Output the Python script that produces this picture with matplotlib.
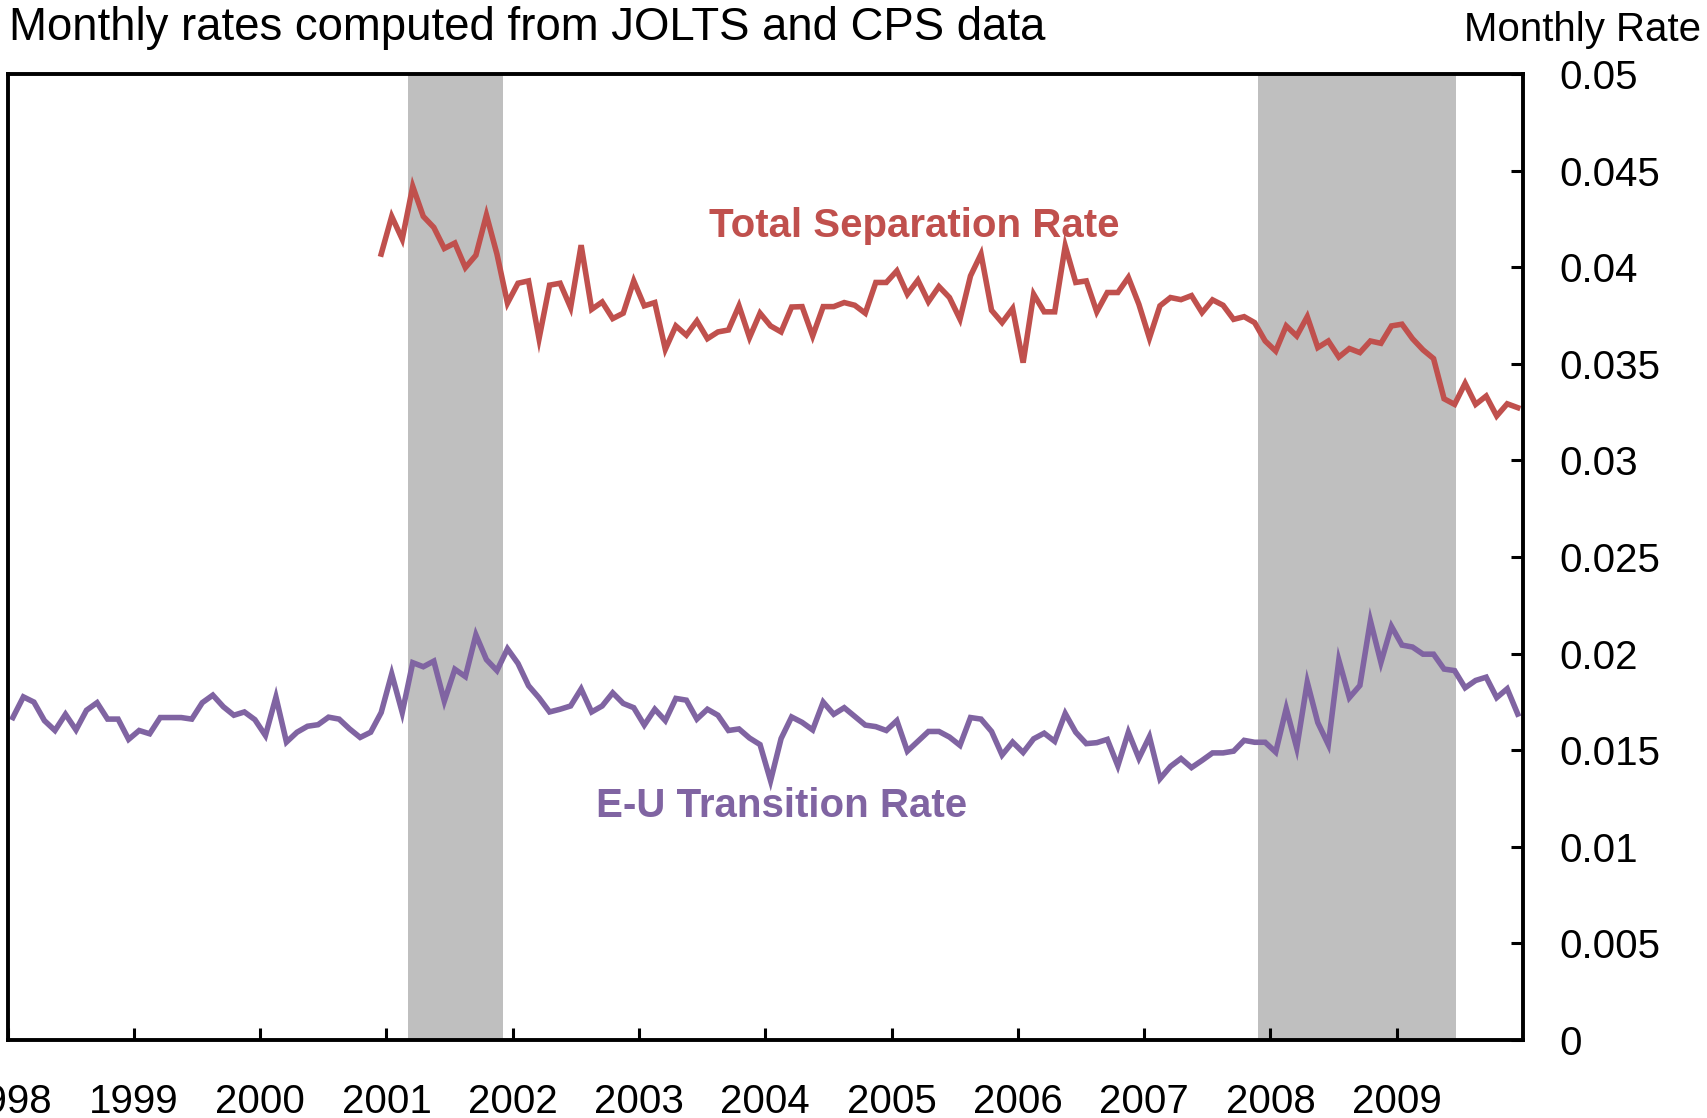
import numpy as np
import matplotlib
matplotlib.use('Agg')
import matplotlib.pyplot as plt

plt.rcParams['font.family'] = ['Liberation Sans', 'DejaVu Sans']

###############################################################################
## Data (monthly, Jan 1998 - Dec 2009)
###############################################################################
eu_rate = [
    0.01669, 0.01776, 0.01749, 0.01653, 0.01602, 0.01686, 0.01605, 0.01707, 0.01746, 0.01661, 0.01661, 0.01556,  # 1998
    0.01602, 0.01585, 0.01669, 0.01669, 0.01669, 0.01661, 0.01746, 0.01785, 0.01725, 0.01681, 0.01698, 0.01658,  # 1999
    0.01576, 0.01775, 0.01542, 0.01593, 0.01624, 0.01632, 0.01671, 0.01661, 0.01610, 0.01566, 0.01593, 0.01695,  # 2000
    0.01895, 0.01695, 0.01953, 0.01932, 0.01961, 0.01754, 0.01919, 0.01881, 0.02097, 0.01969, 0.01912, 0.02025,  # 2001
    0.01949, 0.01834, 0.01771, 0.01698, 0.01712, 0.01729, 0.01817, 0.01698, 0.01729, 0.01797, 0.01742, 0.01720,  # 2002
    0.01630, 0.01712, 0.01653, 0.01768, 0.01759, 0.01661, 0.01712, 0.01681, 0.01602, 0.01610, 0.01563, 0.01529,  # 2003
    0.01342, 0.01560, 0.01672, 0.01644, 0.01605, 0.01749, 0.01686, 0.01720, 0.01675, 0.01630, 0.01622, 0.01602,  # 2004
    0.01653, 0.01495, 0.01546, 0.01597, 0.01597, 0.01568, 0.01525, 0.01669, 0.01661, 0.01597, 0.01475, 0.01542,  # 2005
    0.01488, 0.01559, 0.01588, 0.01546, 0.01690, 0.01593, 0.01534, 0.01539, 0.01556, 0.01419, 0.01593, 0.01458,  # 2006
    0.01570, 0.01352, 0.01416, 0.01457, 0.01410, 0.01447, 0.01486, 0.01486, 0.01495, 0.01551, 0.01541, 0.01541,  # 2007
    0.01490, 0.01716, 0.01512, 0.01852, 0.01643, 0.01529, 0.01966, 0.01772, 0.01835, 0.02170, 0.01954, 0.02141,  # 2008
    0.02044, 0.02034, 0.01997, 0.01997, 0.01920, 0.01912, 0.01823, 0.01861, 0.01878, 0.01772, 0.01818, 0.01687,  # 2009
]

# JOLTS total separations start in Dec 2000
sep_start = 35
sep_rate = [
    0.04068,                                                                                                # Dec 2000
    0.04263, 0.04145, 0.04418, 0.04263, 0.04206, 0.04097, 0.04125, 0.03998, 0.04062, 0.04270, 0.04068, 0.03814,  # 2001
    0.03917, 0.03929, 0.03630, 0.03907, 0.03917, 0.03791, 0.04114, 0.03782, 0.03820, 0.03734, 0.03762, 0.03929,  # 2002
    0.03800, 0.03817, 0.03575, 0.03696, 0.03648, 0.03722, 0.03630, 0.03665, 0.03675, 0.03800, 0.03636, 0.03762,  # 2003
    0.03696, 0.03665, 0.03794, 0.03796, 0.03644, 0.03796, 0.03796, 0.03817, 0.03803, 0.03762, 0.03921, 0.03921,  # 2004
    0.03981, 0.03860, 0.03933, 0.03821, 0.03900, 0.03843, 0.03731, 0.03955, 0.04068, 0.03777, 0.03713, 0.03786,  # 2005
    0.03506, 0.03860, 0.03769, 0.03769, 0.04110, 0.03921, 0.03929, 0.03769, 0.03869, 0.03869, 0.03947, 0.03808,  # 2006
    0.03633, 0.03800, 0.03843, 0.03832, 0.03853, 0.03765, 0.03831, 0.03803, 0.03730, 0.03744, 0.03713, 0.03618,  # 2007
    0.03566, 0.03696, 0.03644, 0.03744, 0.03584, 0.03618, 0.03535, 0.03579, 0.03558, 0.03618, 0.03606, 0.03696,  # 2008
    0.03705, 0.03630, 0.03572, 0.03527, 0.03319, 0.03290, 0.03399, 0.03290, 0.03333, 0.03230, 0.03293, 0.03273,  # 2009
]

# NBER recessions (decimal years)
rec_start = [2001.17, 2007.90]
rec_end = [2001.92, 2009.47]

years = list(range(1998, 2010))
yticks = [0, 0.005, 0.01, 0.015, 0.02, 0.025, 0.03, 0.035, 0.04, 0.045, 0.05]
ytick_labels = ['0', '0.005', '0.01', '0.015', '0.02', '0.025', '0.03', '0.035', '0.04', '0.045', '0.05']

###############################################################################
red = '#C0504D'
purple = '#8064A2'
shade = '#BFBFBF'

t_eu = 1998 + (np.arange(len(eu_rate)) + 0.5) / 12.0
t_sep = 1998 + (np.arange(len(sep_rate)) + sep_start + 0.5) / 12.0

W, H = 1707, 1118
fig = plt.figure(figsize=(W / 100, H / 100), dpi=100)
ax = fig.add_axes([7.6 / W, 1 - 1040 / H, (1523 - 7.6) / W, (1040 - 74) / H])

for s, e in zip(rec_start, rec_end):
    ax.axvspan(s, e, color=shade, lw=0, zorder=1)

ax.plot(t_sep, sep_rate, color=red, lw=4, zorder=3, solid_joinstyle='miter')
ax.plot(t_eu, eu_rate, color=purple, lw=4, zorder=3, solid_joinstyle='miter')

ax.text(2005.18, 0.04214, 'Total Separation Rate', color=red, fontsize=29,
        fontweight='bold', ha='center', va='center', zorder=5)
ax.text(2004.13, 0.01210, 'E-U Transition Rate', color=purple, fontsize=29,
        fontweight='bold', ha='center', va='center', zorder=5)

ax.set_xlim(1998, 2010)
ax.set_ylim(0, 0.05)
ax.set_xticks(years)
ax.set_xticklabels([str(y) for y in years])
ax.set_yticks(yticks)
ax.set_yticklabels(ytick_labels)
ax.yaxis.tick_right()

for sp in ax.spines.values():
    sp.set_linewidth(2.8)
    sp.set_zorder(4)
ax.tick_params(axis='both', direction='in', length=9, width=2.2, labelsize=29)
ax.tick_params(axis='y', pad=26)
ax.tick_params(axis='x', pad=31)

fig.text(9 / W, 1 - 28 / H, 'Monthly rates computed from JOLTS and CPS data',
         fontsize=32.8, ha='left', va='center')
fig.text(1701 / W, 1 - 30 / H, 'Monthly Rate', fontsize=29, ha='right', va='center')

fig.savefig('out.png', dpi=100)
